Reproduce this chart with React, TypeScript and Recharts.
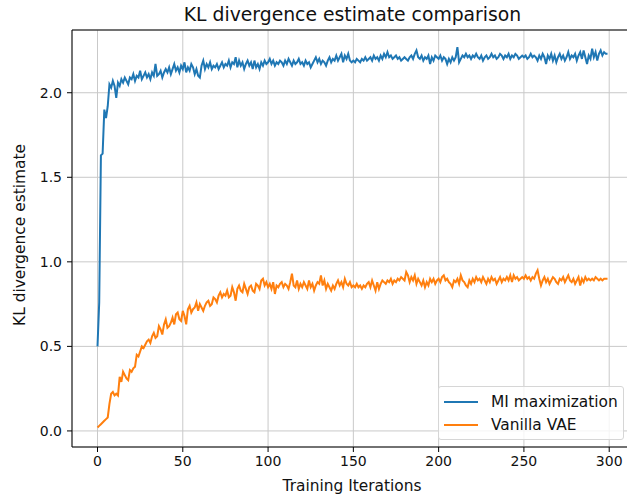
import React from 'react';
import {
	LineChart,
	Line,
	XAxis,
	YAxis,
	CartesianGrid,
	Legend,
	ReferenceLine,
	Label,
} from 'recharts';

// MI maximization, one value per training iteration (0..299)
const miValues = [
	0.50, 0.76, 1.63, 1.64, 1.90, 1.85, 1.92, 2.05, 2.03, 2.07,
	2.04, 1.97, 2.06, 2.04, 2.08, 2.06, 2.09, 2.07, 2.05, 2.09,
	2.08, 2.11, 2.07, 2.10, 2.09, 2.13, 2.08, 2.10, 2.12, 2.09,
	2.11, 2.08, 2.12, 2.10, 2.17, 2.10, 2.11, 2.13, 2.09, 2.12,
	2.14, 2.12, 2.15, 2.11, 2.14, 2.17, 2.13, 2.15, 2.12, 2.16,
	2.14, 2.18, 2.12, 2.15, 2.13, 2.17, 2.15, 2.11, 2.14, 2.10,
	2.09, 2.16, 2.19, 2.14, 2.17, 2.15, 2.18, 2.14, 2.16, 2.15,
	2.17, 2.14, 2.16, 2.18, 2.15, 2.17, 2.16, 2.19, 2.15, 2.18,
	2.17, 2.21, 2.15, 2.19, 2.16, 2.18, 2.14, 2.17, 2.19, 2.16,
	2.18, 2.14, 2.19, 2.15, 2.17, 2.14, 2.18, 2.16, 2.19, 2.17,
	2.18, 2.20, 2.17, 2.19, 2.16, 2.18, 2.17, 2.19, 2.18, 2.16,
	2.19, 2.17, 2.20, 2.18, 2.16, 2.19, 2.17, 2.18, 2.20, 2.17,
	2.18, 2.16, 2.19, 2.17, 2.18, 2.15, 2.17, 2.19, 2.21, 2.18,
	2.20, 2.17, 2.19, 2.18, 2.16, 2.19, 2.21, 2.18, 2.20, 2.19,
	2.22, 2.19, 2.21, 2.23, 2.18, 2.22, 2.20, 2.23, 2.19, 2.18,
	2.19, 2.18, 2.20, 2.19, 2.18, 2.20, 2.19, 2.21, 2.19, 2.20,
	2.21, 2.19, 2.22, 2.20, 2.21, 2.19, 2.22, 2.20, 2.23, 2.21,
	2.24, 2.21, 2.22, 2.20, 2.21, 2.22, 2.20, 2.21, 2.19, 2.20,
	2.21, 2.20, 2.19, 2.21, 2.22, 2.20, 2.23, 2.25, 2.21, 2.20,
	2.22, 2.19, 2.21, 2.20, 2.22, 2.17, 2.21, 2.19, 2.22, 2.21,
	2.20, 2.22, 2.19, 2.21, 2.20, 2.17, 2.20, 2.18, 2.21, 2.19,
	2.21, 2.27, 2.18, 2.20, 2.22, 2.21, 2.23, 2.21, 2.22, 2.20,
	2.22, 2.21, 2.23, 2.21, 2.20, 2.22, 2.19, 2.21, 2.22, 2.20,
	2.21, 2.23, 2.21, 2.22, 2.20, 2.21, 2.23, 2.22, 2.20, 2.22,
	2.21, 2.23, 2.20, 2.22, 2.21, 2.23, 2.22, 2.20, 2.21, 2.22,
	2.21, 2.22, 2.20, 2.21, 2.23, 2.21, 2.22, 2.21, 2.19, 2.22,
	2.20, 2.23, 2.21, 2.17, 2.22, 2.20, 2.23, 2.19, 2.22, 2.18,
	2.21, 2.23, 2.20, 2.22, 2.19, 2.21, 2.24, 2.20, 2.22, 2.21,
	2.23, 2.19, 2.22, 2.24, 2.20, 2.25, 2.21, 2.17, 2.22, 2.20,
	2.26, 2.21, 2.24, 2.19, 2.23, 2.25, 2.22, 2.24, 2.23, 2.23,
];

// Vanilla VAE, one value per training iteration (0..299)
const vaeValues = [
	0.02, 0.03, 0.04, 0.05, 0.06, 0.07, 0.08, 0.16, 0.22, 0.23,
	0.21, 0.22, 0.21, 0.32, 0.29, 0.35, 0.33, 0.31, 0.30, 0.36,
	0.35, 0.37, 0.38, 0.45, 0.44, 0.47, 0.50, 0.49, 0.51, 0.53,
	0.54, 0.52, 0.56, 0.58, 0.55, 0.56, 0.62, 0.60, 0.57, 0.63,
	0.66, 0.61, 0.62, 0.64, 0.67, 0.63, 0.69, 0.70, 0.66, 0.65,
	0.71, 0.68, 0.63, 0.72, 0.74, 0.70, 0.72, 0.73, 0.76, 0.71,
	0.75, 0.73, 0.71, 0.74, 0.76, 0.77, 0.74, 0.75, 0.79, 0.78,
	0.76, 0.80, 0.82, 0.79, 0.81, 0.80, 0.83, 0.79, 0.80, 0.85,
	0.82, 0.77, 0.84, 0.86, 0.83, 0.82, 0.87, 0.84, 0.81, 0.85,
	0.86, 0.83, 0.82, 0.87, 0.86, 0.84, 0.89, 0.90, 0.86, 0.88,
	0.85, 0.87, 0.84, 0.88, 0.81, 0.86, 0.85, 0.87, 0.88, 0.85,
	0.87, 0.86, 0.84, 0.88, 0.93, 0.86, 0.85, 0.89, 0.84, 0.87,
	0.85, 0.88, 0.86, 0.84, 0.89, 0.85, 0.87, 0.83, 0.86, 0.88,
	0.87, 0.92, 0.86, 0.89, 0.84, 0.87, 0.85, 0.83, 0.86, 0.84,
	0.87, 0.89, 0.86, 0.88, 0.85, 0.90, 0.87, 0.86, 0.88, 0.85,
	0.86, 0.85, 0.87, 0.85, 0.86, 0.84, 0.86, 0.85, 0.87, 0.88,
	0.85, 0.89, 0.86, 0.83, 0.88, 0.84, 0.87, 0.89, 0.88, 0.87,
	0.89, 0.88, 0.90, 0.87, 0.89, 0.88, 0.90, 0.89, 0.91, 0.90,
	0.89, 0.94, 0.92, 0.88, 0.91, 0.89, 0.92, 0.87, 0.90, 0.88,
	0.86, 0.89, 0.85, 0.88, 0.86, 0.90, 0.88, 0.90, 0.87, 0.89,
	0.90, 0.88, 0.91, 0.92, 0.89, 0.90, 0.88, 0.87, 0.85, 0.89,
	0.88, 0.90, 0.87, 0.92, 0.89, 0.88, 0.86, 0.85, 0.89, 0.87,
	0.90, 0.88, 0.91, 0.89, 0.90, 0.88, 0.91, 0.89, 0.87, 0.90,
	0.88, 0.91, 0.89, 0.90, 0.87, 0.89, 0.91, 0.88, 0.90, 0.89,
	0.91, 0.89, 0.92, 0.88, 0.92, 0.90, 0.91, 0.89, 0.90, 0.91,
	0.90, 0.92, 0.90, 0.91, 0.89, 0.91, 0.90, 0.93, 0.95, 0.90,
	0.86, 0.89, 0.91, 0.88, 0.90, 0.87, 0.89, 0.91, 0.90, 0.88,
	0.87, 0.90, 0.89, 0.91, 0.88, 0.90, 0.92, 0.89, 0.88, 0.90,
	0.87, 0.89, 0.91, 0.86, 0.90, 0.88, 0.91, 0.89, 0.90, 0.89,
	0.90, 0.89, 0.91, 0.90, 0.89, 0.90, 0.89, 0.90, 0.90, 0.90,
];

const xTicks = [0, 50, 100, 150, 200, 250, 300];
const yTicks = [0, 0.5, 1.0, 1.5, 2.0];
const xDomain = [-14.95, 313.95];
const yDomain = [-0.095, 2.371];

const series = [
	{ key: 'mi', name: 'MI maximization', color: '#1f77b4' },
	{ key: 'vae', name: 'Vanilla VAE', color: '#ff7f0e' },
];

const rows = miValues.map((v, i) => ({ iter: i, mi: v, vae: vaeValues[i] }));

const FONT = '"DejaVu Sans", sans-serif';
const tickStyle = { fontSize: 14, fill: '#111', fontFamily: FONT };
const labelStyle = { fontSize: 15.4, fontFamily: FONT, fill: '#111' };

const LegendBox = () => (
	<div
		style={{
			boxSizing: 'border-box',
			width: 186,
			padding: '3px 0 3px 5px',
			border: '1px solid #d6d6d6',
			borderRadius: 3,
			background: 'rgba(255,255,255,0.8)',
			fontFamily: FONT,
			fontSize: 15.4,
			color: '#111',
		}}
	>
		{series.map((s) => (
			<div key={s.key} style={{ display: 'flex', alignItems: 'center', height: 23, whiteSpace: 'nowrap' }}>
				<span style={{ display: 'inline-block', width: 34, height: 2, background: s.color, marginRight: 13 }} />
				<span>{s.name}</span>
			</div>
		))}
	</div>
);

const App: React.FC = () => {
	return (
		<div
			style={{
				position: 'absolute',
				left: 0,
				top: 0,
				width: 627,
				height: 497,
				overflow: 'hidden',
				background: '#fff',
			}}
		>
			<div
				style={{
					position: 'absolute',
					left: 0,
					top: 3,
					width: 705,
					textAlign: 'center',
					fontFamily: FONT,
					fontSize: 18.8,
					lineHeight: '24px',
					color: '#111',
				}}
			>
				KL divergence estimate comparison
			</div>
			<LineChart
				width={640}
				height={497}
				data={rows}
				margin={{ top: 30, right: 7, bottom: 0, left: 0 }}
			>
				<CartesianGrid stroke="#c9c9c9" strokeWidth={1} />
				<XAxis
					type="number"
					dataKey="iter"
					domain={xDomain}
					ticks={xTicks}
					interval={0}
					height={50}
					tickSize={5}
					tickMargin={4}
					tick={tickStyle}
					stroke="#000"
					axisLine={{ stroke: '#000', strokeWidth: 1 }}
					tickLine={{ stroke: '#000', strokeWidth: 1 }}
				>
					<Label
						content={() => (
							<text x={352} y={486} textAnchor="middle" dominantBaseline="central" style={labelStyle}>
								Training Iterations
							</text>
						)}
					/>
				</XAxis>
				<YAxis
					type="number"
					domain={yDomain}
					ticks={yTicks}
					interval={0}
					width={72}
					tickSize={5}
					tickMargin={5}
					tick={tickStyle}
					tickFormatter={(v: number) => v.toFixed(1)}
					stroke="#000"
					axisLine={{ stroke: '#000', strokeWidth: 1 }}
					tickLine={{ stroke: '#000', strokeWidth: 1 }}
				>
					<Label
						content={() => (
							<text
								x={20}
								y={235}
								transform="rotate(-90 20 235)"
								textAnchor="middle"
								dominantBaseline="central"
								style={labelStyle}
							>
								KL divergence estimate
							</text>
						)}
					/>
				</YAxis>
				<ReferenceLine y={yDomain[1]} stroke="#000" strokeWidth={1} ifOverflow="visible" />
				<ReferenceLine x={xDomain[1]} stroke="#000" strokeWidth={1} ifOverflow="visible" />
				{series.map((s) => (
					<Line
						key={s.key}
						type="linear"
						dataKey={s.key}
						name={s.name}
						stroke={s.color}
						strokeWidth={2}
						dot={false}
						isAnimationActive={false}
					/>
				))}
				<Legend
					layout="vertical"
					align="center"
					verticalAlign="middle"
					wrapperStyle={{ left: 438, top: 386, width: 'auto' }}
					content={() => <LegendBox />}
				/>
			</LineChart>
		</div>
	);
};

export default App;
